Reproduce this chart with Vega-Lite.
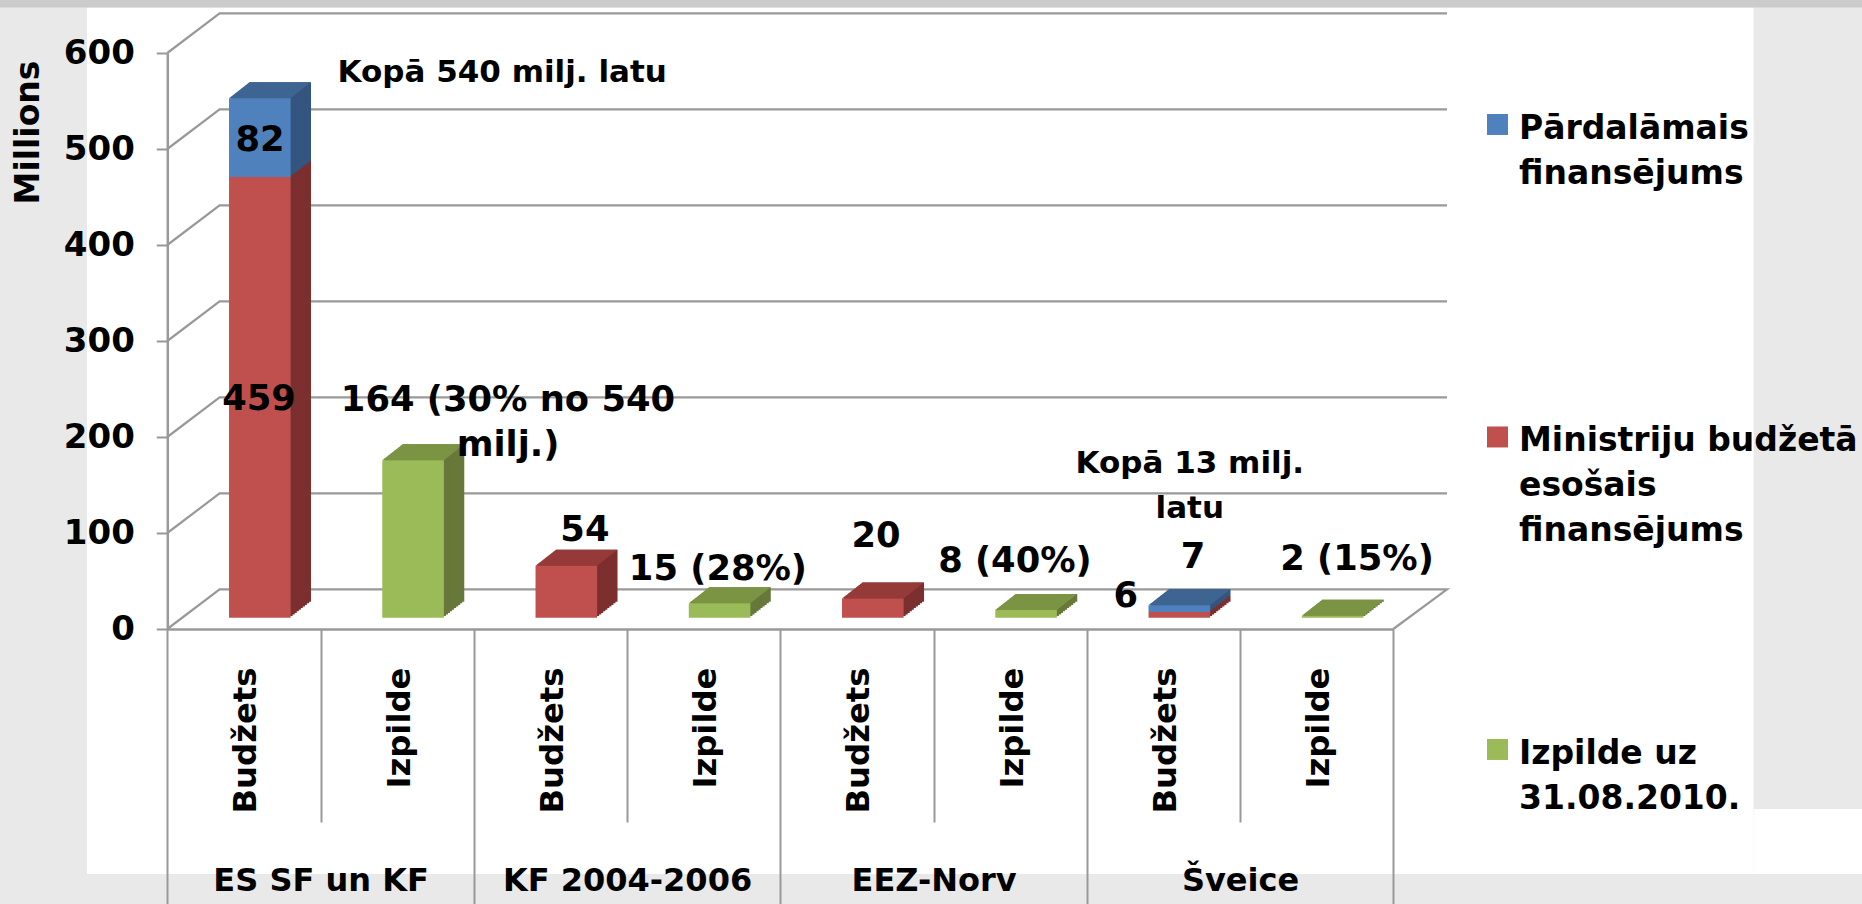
{
"$schema":"https://vega.github.io/schema/vega-lite/v6.json",
"width":1862,"height":904,"padding":0,"autosize":"none","background":"#e9e9e9",
"config":{"view":{"stroke":null},"font":"DejaVu Sans"},
"datasets":{
"bars":[
{"group":"ES SF un KF","kind":"Budžets","slot":0.5,"series":"Ministriju budžetā esošais finansējums","value":459},
{"group":"ES SF un KF","kind":"Budžets","slot":0.5,"series":"Pārdalāmais finansējums","value":82},
{"group":"ES SF un KF","kind":"Izpilde","slot":1.5,"series":"Izpilde uz 31.08.2010.","value":164},
{"group":"KF 2004-2006","kind":"Budžets","slot":2.5,"series":"Ministriju budžetā esošais finansējums","value":54},
{"group":"KF 2004-2006","kind":"Izpilde","slot":3.5,"series":"Izpilde uz 31.08.2010.","value":15},
{"group":"EEZ-Norv","kind":"Budžets","slot":4.5,"series":"Ministriju budžetā esošais finansējums","value":20},
{"group":"EEZ-Norv","kind":"Izpilde","slot":5.5,"series":"Izpilde uz 31.08.2010.","value":8},
{"group":"Šveice","kind":"Budžets","slot":6.5,"series":"Ministriju budžetā esošais finansējums","value":6},
{"group":"Šveice","kind":"Budžets","slot":6.5,"series":"Pārdalāmais finansējums","value":7},
{"group":"Šveice","kind":"Izpilde","slot":7.5,"series":"Izpilde uz 31.08.2010.","value":2}
],
"ticks":[{"slot":0,"tick":0},{"slot":0,"tick":100},{"slot":0,"tick":200},{"slot":0,"tick":300},{"slot":0,"tick":400},{"slot":0,"tick":500},{"slot":0,"tick":600}]
},
"resolve":{"axis":{"x":"independent"},"scale":{"fill":"independent"}},
"layer":[
{"data":{"values":[{"a":-0.524,"b":10.352,"c":647.4,"d":-255.2},{"a":10.352,"b":11.06,"c":-187.5,"d":-255.2}]},
 "mark":{"type":"rect","color":"#ffffff"},
 "encoding":{
  "x":{"field":"a","type":"quantitative","scale":{"domain":[0,8],"range":[167.3,1393.3],"nice":false,"zero":false,"padding":0},
   "axis":{"values":[0.5,1.5,2.5,3.5,4.5,5.5,6.5,7.5],"title":null,"orient":"bottom","offset":-275,"zindex":1,"grid":false,"domain":true,"domainColor":"#999999","domainWidth":2.5,"ticks":false,"labelAngle":-90,"labelAlign":"right","labelBaseline":"middle","labelPadding":38,"labelOffset":2,"labelFont":"DejaVu Sans","labelFontWeight":"bold","labelFontSize":32.3,"labelColor":"#000000","labelExpr":"floor(datum.value)%2==0?'Budžets':'Izpilde'","labelOverlap":false,"labelBound":false,"labelFlush":false}},
  "x2":{"field":"b"},
  "y":{"field":"c","type":"quantitative","scale":{"domain":[0,600],"range":[629,53],"nice":false,"zero":false,"padding":0},
   "axis":{"values":[0,100,200,300,400,500,600],"title":"Millions","titleX":-129,"titleY":132,"titleAngle":-90,"titleAlign":"center","titleBaseline":"alphabetic","titleFontSize":33,"titleFontWeight":"bold","titleFont":"DejaVu Sans","titleColor":"#000000","orient":"left","offset":-167.3,"zindex":1,"grid":false,"domainColor":"#999999","domainWidth":2.5,"tickColor":"#999999","tickWidth":2,"tickSize":11,"labelPadding":22,"labelFont":"DejaVu Sans","labelFontWeight":"bold","labelFontSize":34,"labelColor":"#000000","labelOverlap":false,"labelBound":false,"labelFlush":false}},
  "y2":{"field":"d"}
 }},
{"data":{"values":[{"a":-1.1,"b":11.06,"c":656,"d":647.4}]},
 "mark":{"type":"rect","color":"#cbcbcb"},
 "encoding":{
  "x":{"field":"a","type":"quantitative","axis":{"values":[1,3,5,7],"title":null,"orient":"bottom","offset":-275,"zindex":1,"grid":false,"domain":false,"tickColor":"#999999","tickWidth":2,"tickSize":193,"labels":false}},
  "x2":{"field":"b"},
  "y":{"field":"c","type":"quantitative"},
  "y2":{"field":"d"}
 }},
{"data":{"name":"ticks"},"transform":[{"filter":"datum.tick>0"}],
 "mark":{"type":"point","shape":"M0,0L0.523,-0.396L12.797,-0.396","size":40000,"filled":false,"opacity":1,"stroke":"#999999","strokeWidth":2.2},
 "encoding":{
  "x":{"field":"slot","type":"quantitative","axis":{"values":[0,2,4,6,8],"title":null,"orient":"bottom","offset":-275,"zindex":1,"grid":false,"domain":false,"tickColor":"#999999","tickWidth":2,"tickSize":300,"labels":false}},
  "y":{"field":"tick","type":"quantitative"}
 }},
{"data":{"name":"ticks"},"transform":[{"filter":"datum.tick==0"}],
 "mark":{"type":"point","shape":"M0,0L0.523,-0.396L12.797,-0.396L12.26,0","size":40000,"filled":false,"opacity":1,"stroke":"#999999","strokeWidth":2.2},
 "encoding":{
  "x":{"field":"slot","type":"quantitative","axis":{"values":[1,3,5,7],"title":null,"orient":"bottom","offset":-275,"zindex":1,"grid":false,"domain":false,"ticks":false,"labelPadding":251,"labelBaseline":"middle","labelAlign":"center","labelFont":"DejaVu Sans","labelFontWeight":"bold","labelFontSize":32,"labelColor":"#000000","labelLimit":400,"labelExpr":"{'1':'ES SF un KF','3':'KF 2004-2006','5':'EEZ-Norv','7':'Šveice'}[''+datum.value]","labelOverlap":false,"labelBound":false,"labelFlush":false}},
  "y":{"field":"tick","type":"quantitative"}
 }},
{"data":{"name":"bars"},
 "transform":[{"stack":"value","groupby":["slot"],"sort":[{"field":"series","order":"ascending"}],"as":["s0","s1"]}],
 "encoding":{
  "x":{"field":"slot","type":"quantitative","axis":null},
  "y":{"field":"s1","type":"quantitative"},
  "y2":{"field":"s0"},
  "fill":{"field":"series","type":"nominal","legend":null,"scale":{"domain":["Pārdalāmais finansējums","Ministriju budžetā esošais finansējums","Izpilde uz 31.08.2010."],"range":["#33557f","#7b2f2e","#67783a"]}}
 },
 "layer":[
  {"mark":{"type":"bar","orient":"vertical","size":61.6,"xOffset":36.3,"yOffset":-27.3,"y2Offset":-27.3}},
  {"mark":{"type":"bar","orient":"vertical","size":61.6,"xOffset":34.3,"yOffset":-25.7,"y2Offset":-25.7}},
  {"mark":{"type":"bar","orient":"vertical","size":61.6,"xOffset":32.2,"yOffset":-24.1,"y2Offset":-24.1}},
  {"mark":{"type":"bar","orient":"vertical","size":61.6,"xOffset":30.2,"yOffset":-22.5,"y2Offset":-22.5}},
  {"mark":{"type":"bar","orient":"vertical","size":61.6,"xOffset":28.1,"yOffset":-20.9,"y2Offset":-20.9}},
  {"mark":{"type":"bar","orient":"vertical","size":61.6,"xOffset":26.1,"yOffset":-19.3,"y2Offset":-19.3}},
  {"mark":{"type":"bar","orient":"vertical","size":61.6,"xOffset":24.1,"yOffset":-17.7,"y2Offset":-17.7}},
  {"mark":{"type":"bar","orient":"vertical","size":61.6,"xOffset":22.0,"yOffset":-16.1,"y2Offset":-16.1}},
  {"mark":{"type":"bar","orient":"vertical","size":61.6,"xOffset":20.0,"yOffset":-14.5,"y2Offset":-14.5}},
  {"mark":{"type":"bar","orient":"vertical","size":61.6,"xOffset":17.9,"yOffset":-12.9,"y2Offset":-12.9}}
 ]},
{"data":{"name":"bars"},
 "transform":[{"stack":"value","groupby":["slot"],"sort":[{"field":"series","order":"ascending"}],"as":["s0","s1"]},
  {"joinaggregate":[{"op":"max","field":"s1","as":"m"}],"groupby":["slot"]},{"filter":"datum.s1==datum.m"}],
 "mark":{"type":"point","shape":"M-0.308,0L0.308,0L0.512,-0.16L-0.104,-0.16Z","size":40000,"filled":true,"opacity":1,"xOffset":15.9,"yOffset":-11.3},
 "encoding":{
  "x":{"field":"slot","type":"quantitative","axis":null},
  "y":{"field":"s1","type":"quantitative"},
  "fill":{"field":"series","type":"nominal","legend":null,"scale":{"domain":["Pārdalāmais finansējums","Ministriju budžetā esošais finansējums","Izpilde uz 31.08.2010."],"range":["#3e6491","#953a38","#7a9444"]}}
 }},
{"data":{"name":"bars"},
 "transform":[{"stack":"value","groupby":["slot"],"sort":[{"field":"series","order":"ascending"}],"as":["s0","s1"]}],
 "mark":{"type":"bar","orient":"vertical","size":61.6,"xOffset":15.9,"yOffset":-11.3,"y2Offset":-11.3},
 "encoding":{
  "x":{"field":"slot","type":"quantitative","axis":null},
  "y":{"field":"s1","type":"quantitative"},
  "y2":{"field":"s0"},
  "color":{"field":"series","type":"nominal","scale":{"domain":["Pārdalāmais finansējums","Ministriju budžetā esošais finansējums","Izpilde uz 31.08.2010."],"range":["#4f81bd","#c0504d","#9bbb59"]},
   "legend":{"title":null,"orient":"none","legendX":1481,"legendY":96,"padding":0,"columns":1,"gridAlign":"all","rowPadding":172.5,"symbolType":"M-1,0.14L1,0.14L1,2.14L-1,2.14Z","symbolSize":441,"symbolStrokeWidth":0,"labelBaseline":"top","labelFont":"DejaVu Sans","labelFontWeight":"bold","labelFontSize":33,"labelColor":"#000000","labelLimit":500,"labelOffset":5,"encoding":{"labels":{"lineHeight":{"value":45}}},"labelExpr":"datum.label=='Pārdalāmais finansējums'?['Pārdalāmais','finansējums']:datum.label=='Izpilde uz 31.08.2010.'?['Izpilde uz','31.08.2010.']:['Ministriju budžetā','esošais','finansējums']"}}
 }},
{"data":{"values":[
 {"slot":0.605,"at":509.4,"text":"82"},
 {"slot":0.599,"at":239.6,"text":"459"},
 {"slot":2.223,"at":238.5,"text":["164 (30% no 540","milj.)"]},
 {"slot":2.725,"at":103,"text":"54"},
 {"slot":3.593,"at":62,"text":"15 (28%)"},
 {"slot":4.625,"at":97,"text":"20"},
 {"slot":5.531,"at":71,"text":"8 (40%)"},
 {"slot":6.255,"at":34,"text":"6"},
 {"slot":6.693,"at":75,"text":"7"},
 {"slot":7.763,"at":73,"text":"2 (15%)"}
 ]},
 "mark":{"type":"text","font":"DejaVu Sans","fontWeight":"bold","fontSize":35.3,"color":"#000000","align":"center","baseline":"middle","lineHeight":45},
 "encoding":{
  "x":{"field":"slot","type":"quantitative","axis":null},
  "y":{"field":"at","type":"quantitative"},
  "text":{"field":"text"}
 }},
{"data":{"values":[
 {"slot":2.185,"at":579,"text":"Kopā 540 milj. latu"},
 {"slot":6.672,"at":171.5,"text":["Kopā 13 milj.","latu"]}
 ]},
 "mark":{"type":"text","font":"DejaVu Sans","fontWeight":"bold","fontSize":31,"color":"#000000","align":"center","baseline":"middle","lineHeight":45},
 "encoding":{
  "x":{"field":"slot","type":"quantitative","axis":null},
  "y":{"field":"at","type":"quantitative"},
  "text":{"field":"text"}
 }}
]
}
